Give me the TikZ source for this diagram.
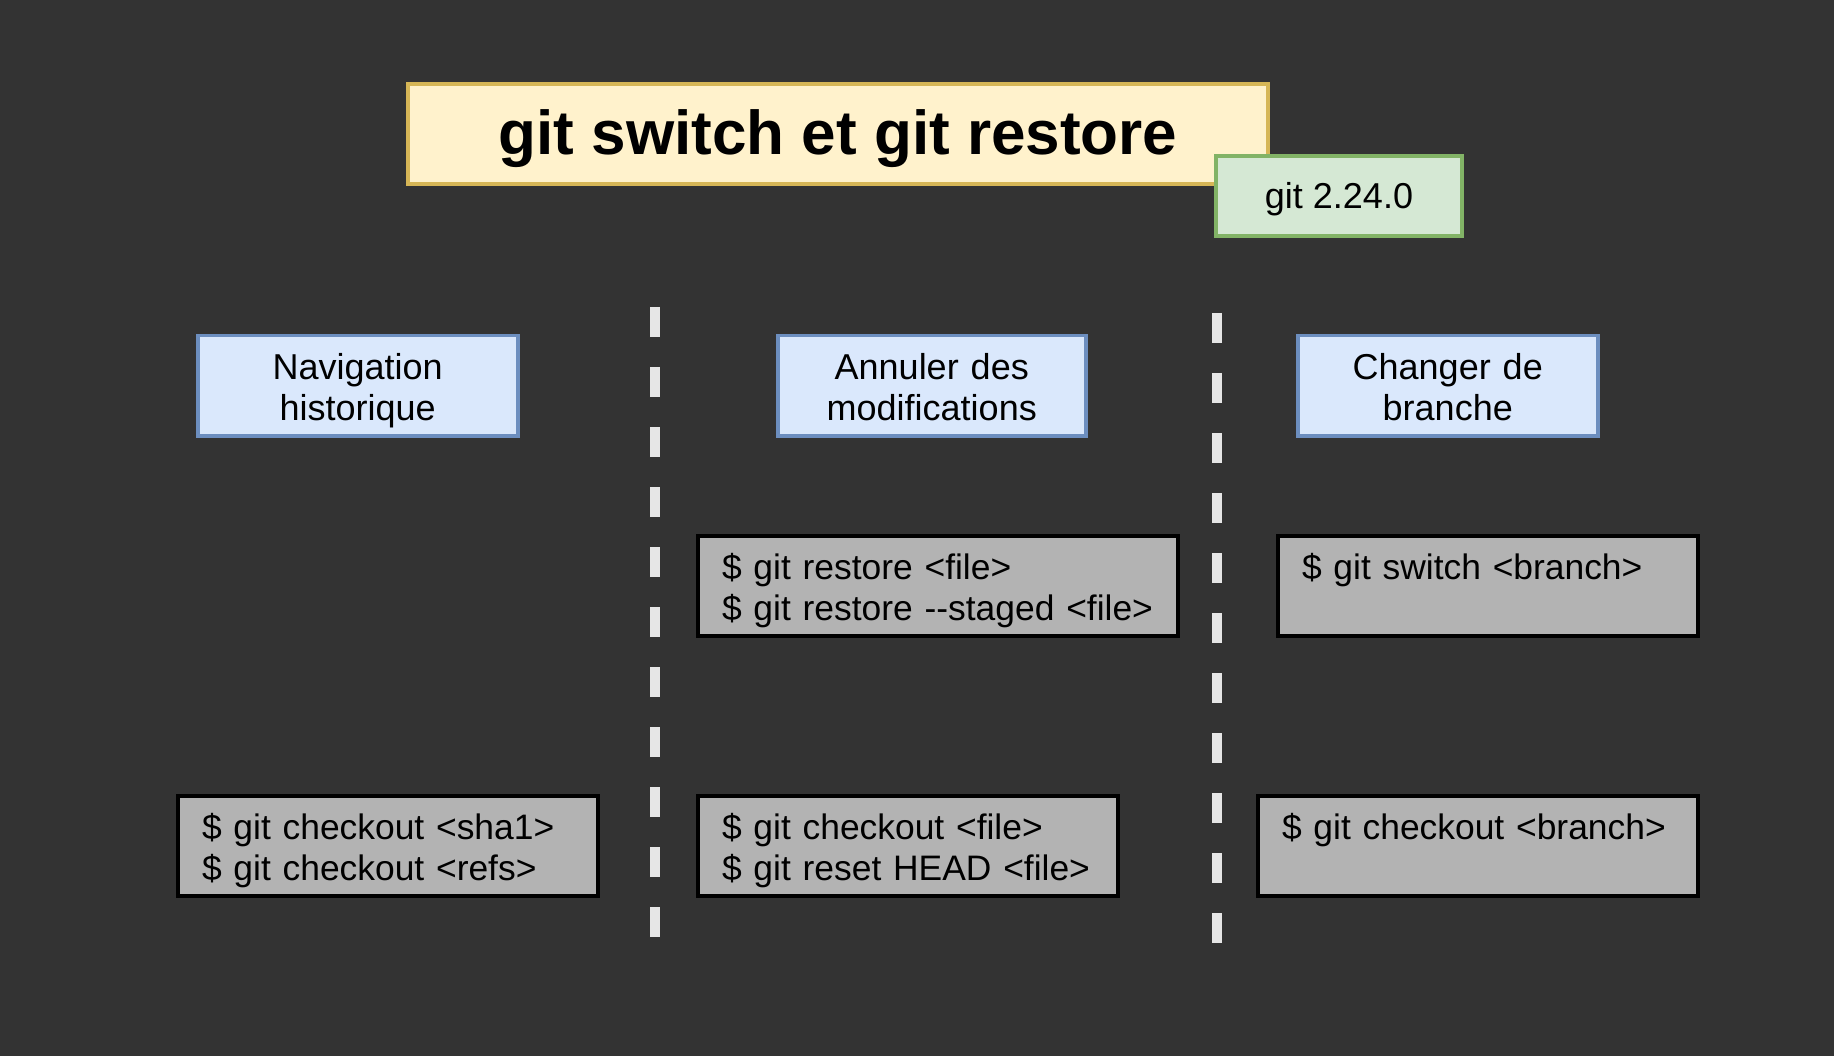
\documentclass[tikz,border=0pt]{standalone}
\usepackage{fontspec}
\setmainfont{Liberation Sans}
\definecolor{bgdark}{HTML}{333333}
\definecolor{titlefill}{HTML}{FFF2CC}
\definecolor{titleline}{HTML}{D6B656}
\definecolor{versionfill}{HTML}{D5E8D4}
\definecolor{versionline}{HTML}{82B366}
\definecolor{topicfill}{HTML}{DAE8FC}
\definecolor{topicline}{HTML}{6C8EBF}
\definecolor{cmdgray}{HTML}{B3B3B3}
\definecolor{sepgray}{HTML}{E6E6E6}
\newcommand{\shellline}[1]{\mbox{\$ #1}}

\begin{document}
\begin{tikzpicture}[x=1pt, y=-1pt,
                box/.style={draw, line width=4pt, inner sep=0pt, anchor=north west},
                titlebox/.style={box, draw=titleline, fill=titlefill, minimum width=860pt,
                        minimum height=100pt, text height=42pt, text depth=0pt,
                        font=\fontsize{62}{70}\selectfont\bfseries},
                versionbox/.style={box, draw=versionline, fill=versionfill, minimum width=246pt,
                        minimum height=80pt, text height=26pt, text depth=0pt,
                        font=\fontsize{36}{41}\selectfont},
                topicbox/.style={box, line width=3.5pt, draw=topicline, fill=topicfill, align=center,
                        text width=#1, text height=43.3pt, text depth=56.7pt,
                        font=\fontsize{36}{41}\selectfont},
                cmdbox/.style={box, draw=black, fill=cmdgray, align=left, inner xsep=24pt,
                        text width=#1, text height=43.3pt, text depth=56.7pt,
                        font=\fontsize{35.4}{41}\selectfont},
                separator/.style={draw=sepgray, line width=10pt, dash pattern=on 30pt off 30pt},
            ]

            \fill[bgdark] (0,0) rectangle (1834,1056);
            \useasboundingbox (0,0) rectangle (1834,1056);

            % title and version
            \node[titlebox] (title_box) at (406,82) {git switch et git restore};
            \node[versionbox] (version_box) at (1214,154) {git 2.24.0};

            % column headers
            \node[topicbox=320pt] (nav_topic) at (196,334) {Navigation\\historique};
            \node[topicbox=308pt] (undo_topic) at (776,334) {Annuler des\\modifications};
            \node[topicbox=300pt] (branch_topic) at (1296,334) {Changer de\\branche};

            % new commands
            \node[cmdbox=432pt] (restore_cmd) at (696,534)
                {\shellline{git restore <file>}\\\shellline{git restore -{}-staged <file>}};
            \node[cmdbox=372pt] (switch_cmd) at (1276,534) {\shellline{git switch <branch>}};

            % old commands
            \node[cmdbox=372pt] (sha_cmd) at (176,794)
                {\shellline{git checkout <sha1>}\\\shellline{git checkout <refs>}};
            \node[cmdbox=372pt] (file_cmd) at (696,794)
                {\shellline{git checkout <file>}\\\shellline{git reset HEAD <file>}};
            \node[cmdbox=392pt] (checkout_cmd) at (1256,794) {\shellline{git checkout <branch>}};

            % separators
            \coordinate (sep_a_top) at (655,307);
            \coordinate (sep_a_bot) at (655,937);
            \coordinate (sep_b_top) at (1217,313);
            \coordinate (sep_b_bot) at (1217,943);
            \draw[separator] (sep_a_top) -- (sep_a_bot);
            \draw[separator] (sep_b_top) -- (sep_b_bot);
        \end{tikzpicture}
\end{document}
